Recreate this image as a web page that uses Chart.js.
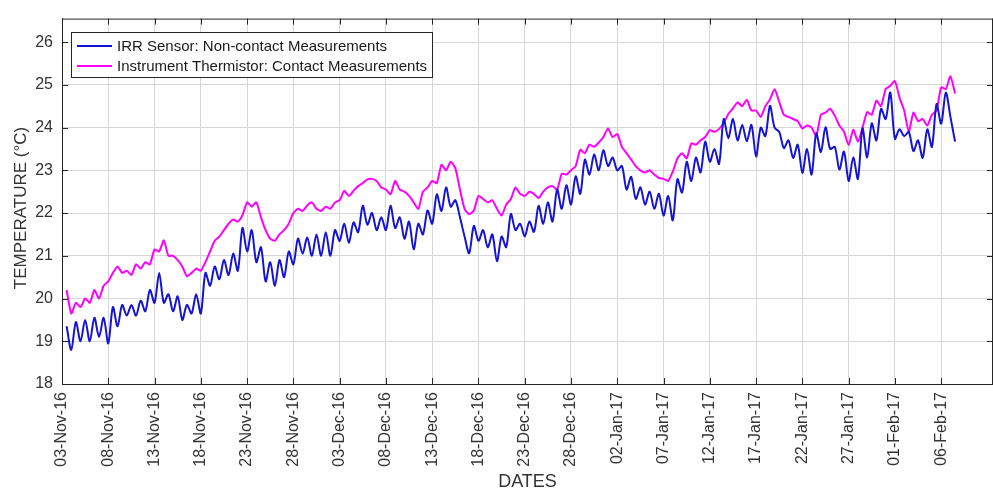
<!DOCTYPE html>
<html>
<head>
<meta charset="utf-8">
<script src="https://cdn.jsdelivr.net/npm/chart.js@4.4.0/dist/chart.umd.min.js"></script>
<style>
html,body{margin:0;padding:0;background:#ffffff;}
canvas{display:block;}
</style>
</head>
<body>
<canvas id="c" width="993" height="492"></canvas>
<script>
// ---- data (half-day samples, first sample 0.5 day after 03-Nov-16) ----
const startDay = 0.5;
const stepDays = 0.5;

const xTickDays = [0,5,10,15,20,25,30,35,40,45,50,55,60,65,70,75,80,85,90,95];
const xTickLabels = ['03-Nov-16','08-Nov-16','13-Nov-16','18-Nov-16','23-Nov-16','28-Nov-16',
  '03-Dec-16','08-Dec-16','13-Dec-16','18-Dec-16','23-Dec-16','28-Dec-16',
  '02-Jan-17','07-Jan-17','12-Jan-17','17-Jan-17','22-Jan-17','27-Jan-17',
  '01-Feb-17','06-Feb-17'];
const yTicks = [18,19,20,21,22,23,24,25,26];

const seriesNames = ['IRR Sensor: Non-contact Measurements','Instrument Thermistor: Contact Measurements'];
const xTitle = 'DATES';
const yTitle = 'TEMPERATURE (°C)';

const irrSensor = [
  19.35,18.8,19.45,19.0,19.5,19.0,19.55,19.1,19.55,18.95,
  19.8,19.35,19.85,19.6,19.85,19.6,19.95,19.7,20.2,19.9,
  20.6,19.9,20.1,19.7,20.05,19.5,19.85,19.65,20.1,19.65,
  20.6,20.3,20.75,20.45,20.9,20.55,21.05,20.65,21.65,21.1,
  21.6,20.85,21.2,20.4,20.85,20.3,20.9,20.5,21.1,20.8,
  21.4,21.05,21.43,21.0,21.5,21.0,21.55,21.0,21.6,21.35,
  21.75,21.3,21.78,21.55,22.17,21.73,22.0,21.6,21.9,21.6,
  22.17,21.65,21.9,21.4,21.8,21.15,21.75,21.5,22.06,21.75,
  22.44,22.05,22.6,22.15,22.3,21.9,21.45,21.06,21.7,21.35,
  21.6,21.2,21.5,20.87,21.45,21.2,21.98,21.6,21.75,21.45,
  21.8,21.56,22.17,21.75,22.25,21.8,22.55,22.1,22.65,22.2,
  22.86,22.45,23.25,22.9,23.37,23.0,23.47,23.1,23.3,23.0,
  23.1,22.55,22.85,22.33,22.6,22.2,22.5,22.1,22.45,21.94,
  22.4,21.83,22.79,22.48,23.2,22.75,23.3,22.95,23.67,23.2,
  23.5,23.15,24.2,23.75,24.2,23.7,24.06,23.68,24.06,23.32,
  24.0,23.8,24.51,24.0,23.9,23.52,23.7,23.29,23.6,22.94,
  23.5,22.9,23.87,23.43,24.01,23.5,23.55,23.02,23.44,22.75,
  23.3,22.8,23.98,23.3,24.1,23.7,24.44,24.2,24.82,23.74,
  23.96,23.8,23.9,23.45,23.7,23.29,23.96,23.55,24.55,24.09,
  24.82,24.25,23.67
];

const thermistor = [
  20.2,19.65,19.9,19.8,20.0,19.9,20.2,20.0,20.3,20.4,
  20.6,20.75,20.6,20.65,20.55,20.8,20.7,20.85,20.8,21.15,
  21.1,21.36,21.0,21.0,20.9,20.75,20.52,20.6,20.7,20.65,
  20.85,21.1,21.35,21.45,21.6,21.75,21.85,21.8,21.95,22.25,
  22.15,22.25,21.9,21.6,21.4,21.35,21.5,21.6,21.75,22.0,
  22.1,22.05,22.18,22.25,22.1,22.05,22.15,22.1,22.25,22.3,
  22.52,22.4,22.52,22.63,22.7,22.79,22.8,22.75,22.6,22.55,
  22.44,22.75,22.55,22.5,22.4,22.25,22.1,22.5,22.6,22.75,
  22.7,23.13,23.0,23.2,23.05,22.55,22.1,21.97,22.06,22.4,
  22.33,22.25,22.3,22.1,21.94,22.2,22.33,22.6,22.45,22.4,
  22.5,22.45,22.35,22.5,22.6,22.63,22.55,22.92,22.9,23.0,
  23.1,23.48,23.4,23.6,23.55,23.65,23.78,23.98,23.78,23.85,
  23.55,23.4,23.25,23.1,23.0,22.95,23.0,22.9,22.82,22.8,
  22.75,22.97,23.28,23.4,23.28,23.63,23.6,23.7,23.78,23.94,
  23.9,23.97,24.1,24.32,24.45,24.59,24.5,24.65,24.4,24.4,
  24.25,24.5,24.66,24.9,24.6,24.3,24.25,24.2,24.15,23.98,
  24.05,24.0,23.8,24.3,24.35,24.44,24.28,24.05,23.9,23.59,
  23.95,23.67,24.0,24.36,24.3,24.63,24.5,24.9,24.98,25.09,
  24.7,24.4,23.9,24.35,24.15,24.2,24.05,24.3,24.4,24.94,
  24.9,25.2,24.8
];

// ---- styling ----
const FONT = "'Liberation Sans', Arial, Helvetica, sans-serif";
const AXIS = '#262626';
const TEXT = '#333333';
const GRID = '#d6d6d6';
const BLUE = '#1414d2';
const MAGENTA = '#ff00ff';

const toPoints = arr => arr.map((v, i) => ({x: startDay + i * stepDays, y: v}));

const framePlugin = {
  id: 'frame',
  afterDraw(chart) {
    const {ctx, chartArea: a, scales: {x, y}} = chart;
    ctx.save();
    ctx.strokeStyle = AXIS;
    ctx.lineWidth = 1;
    ctx.beginPath();
    ctx.moveTo(a.left, a.top + 0.5);
    ctx.lineTo(a.right, a.top + 0.5);
    ctx.moveTo(a.right - 0.5, a.top);
    ctx.lineTo(a.right - 0.5, a.bottom);
    const tl = 6;
    xTickDays.forEach(d => {
      const px = Math.round(x.getPixelForValue(d)) + 0.5;
      ctx.moveTo(px, a.bottom); ctx.lineTo(px, a.bottom - tl);
      ctx.moveTo(px, a.top); ctx.lineTo(px, a.top + tl);
    });
    yTicks.forEach(v => {
      const py = Math.round(y.getPixelForValue(v)) + 0.5;
      ctx.moveTo(a.left, py); ctx.lineTo(a.left + tl, py);
      ctx.moveTo(a.right, py); ctx.lineTo(a.right - tl, py);
    });
    ctx.stroke();

    // y axis title (placed like the reference, slightly below the axis centre)
    ctx.save();
    ctx.translate(21, 208);
    ctx.rotate(-Math.PI / 2);
    ctx.font = '17px ' + FONT;
    ctx.fillStyle = TEXT;
    ctx.textAlign = 'center';
    ctx.textBaseline = 'middle';
    ctx.fillText(yTitle, 0, 0);
    ctx.restore();

    // legend box
    const lx = 71, ly = 32, lw = 361, lh = 45;
    ctx.fillStyle = '#ffffff';
    ctx.fillRect(lx, ly, lw, lh);
    ctx.strokeStyle = AXIS;
    ctx.lineWidth = 1;
    ctx.strokeRect(lx + 0.5, ly + 0.5, lw, lh);
    const rows = [ly + 14, ly + 34];
    const cols = [BLUE, MAGENTA];
    ctx.font = '15px ' + FONT;
    ctx.textBaseline = 'middle';
    ctx.textAlign = 'left';
    rows.forEach((ry, i) => {
      ctx.strokeStyle = cols[i];
      ctx.lineWidth = 2;
      ctx.beginPath();
      ctx.moveTo(77, ry); ctx.lineTo(112, ry);
      ctx.stroke();
      ctx.fillStyle = '#1a1a1a';
      ctx.fillText(seriesNames[i], 117, ry + 1);
    });
    ctx.restore();
  }
};

new Chart(document.getElementById('c'), {
  type: 'line',
  data: {
    datasets: [
      {label: seriesNames[0], data: toPoints(irrSensor), borderColor: BLUE, borderWidth: 2,
       pointRadius: 0, tension: 0.3, fill: false},
      {label: seriesNames[1], data: toPoints(thermistor), borderColor: MAGENTA, borderWidth: 2,
       pointRadius: 0, tension: 0.2, fill: false}
    ]
  },
  options: {
    responsive: false,
    animation: false,
    devicePixelRatio: 1,
    layout: {padding: {top: 12, right: 0, left: 0, bottom: 0}},
    plugins: {legend: {display: false}, tooltip: {enabled: false}},
    scales: {
      x: {
        type: 'linear', min: 0, max: 100.6,
        afterBuildTicks: s => { s.ticks = xTickDays.map(v => ({value: v})); },
        afterFit: s => { s.height = 108; },
        grid: {color: GRID, drawTicks: false},
        border: {color: AXIS, width: 1},
        ticks: {
          autoSkip: false, minRotation: 90, maxRotation: 90, padding: 8,
          color: TEXT, font: {family: FONT, size: 16},
          callback: v => { const i = xTickDays.indexOf(v); return i >= 0 ? xTickLabels[i] : ''; }
        },
        title: {display: true, text: xTitle, color: TEXT,
                font: {family: FONT, size: 18, lineHeight: 1}, padding: {top: 0, bottom: 1}}
      },
      y: {
        type: 'linear', min: 18, max: 26.55,
        afterBuildTicks: s => { s.ticks = yTicks.map(v => ({value: v})); },
        afterFit: s => { s.width = 62; },
        grid: {color: GRID, drawTicks: false},
        border: {color: AXIS, width: 1},
        ticks: {padding: 9, color: TEXT, font: {family: FONT, size: 16},
                callback: v => String(v)},
        title: {display: false}
      }
    }
  },
  plugins: [framePlugin]
});
</script>
</body>
</html>
